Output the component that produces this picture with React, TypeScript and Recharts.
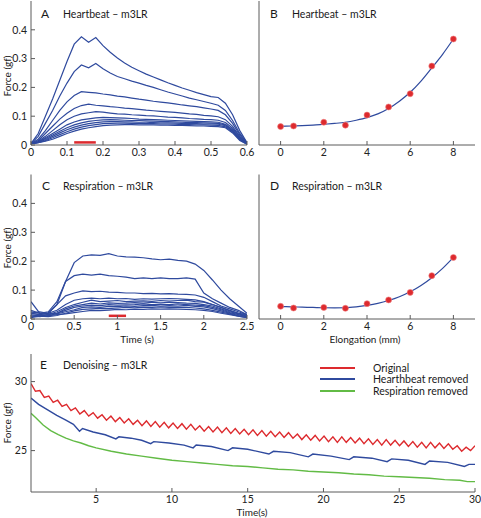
import React from "react";
import {
  ComposedChart,
  Legend,
  Line,
  LineChart,
  ReferenceLine,
  Scatter,
  XAxis,
  YAxis,
} from "recharts";

const FONT = "Lato, 'Liberation Sans', sans-serif";
const BLUE = "#2f4a9e";
const RED = "#dd2a2e";
const GREEN = "#62bb45";
const AXIS = "#5a5a5a";

// panel A: heartbeat traces, sampled every 0.02 s
const hbTime = [0, 0.02, 0.04, 0.06, 0.08, 0.1, 0.12, 0.14, 0.16, 0.18, 0.2, 0.22, 0.24, 0.26, 0.28, 0.3, 0.32, 0.34, 0.36, 0.38, 0.4, 0.42, 0.44, 0.46, 0.48, 0.5, 0.52, 0.54, 0.56, 0.58, 0.6];
const hb1 = [0.005, 0.04, 0.1, 0.16, 0.225, 0.29, 0.35, 0.376, 0.357, 0.373, 0.345, 0.322, 0.302, 0.285, 0.27, 0.258, 0.246, 0.236, 0.226, 0.216, 0.207, 0.198, 0.19, 0.182, 0.175, 0.168, 0.165, 0.145, 0.105, 0.05, 0.008];
const hb2 = [0.005, 0.03, 0.075, 0.12, 0.17, 0.215, 0.255, 0.278, 0.268, 0.283, 0.265, 0.25, 0.238, 0.23, 0.222, 0.215, 0.207, 0.2, 0.192, 0.184, 0.177, 0.17, 0.163, 0.157, 0.151, 0.145, 0.138, 0.12, 0.085, 0.04, 0.007];
const hb3 = [0.005, 0.02, 0.05, 0.085, 0.12, 0.15, 0.172, 0.185, 0.183, 0.181, 0.177, 0.174, 0.17, 0.167, 0.163, 0.159, 0.156, 0.152, 0.149, 0.146, 0.143, 0.139, 0.136, 0.133, 0.129, 0.125, 0.12, 0.105, 0.075, 0.035, 0.006];
const hb4 = [0.005, 0.015, 0.04, 0.065, 0.09, 0.11, 0.127, 0.137, 0.142, 0.138, 0.136, 0.133, 0.131, 0.128, 0.126, 0.124, 0.121, 0.119, 0.117, 0.115, 0.113, 0.111, 0.108, 0.106, 0.103, 0.101, 0.098, 0.088, 0.065, 0.03, 0.005];
const hb5 = [0.005, 0.012, 0.03, 0.05, 0.07, 0.088, 0.1, 0.108, 0.112, 0.116, 0.114, 0.111, 0.108, 0.107, 0.105, 0.104, 0.102, 0.101, 0.099, 0.097, 0.096, 0.094, 0.092, 0.091, 0.089, 0.088, 0.086, 0.078, 0.058, 0.028, 0.005];
const hb6 = [0.005, 0.01, 0.025, 0.04, 0.055, 0.07, 0.08, 0.087, 0.091, 0.094, 0.096, 0.095, 0.094, 0.093, 0.092, 0.09, 0.089, 0.088, 0.087, 0.086, 0.085, 0.084, 0.083, 0.082, 0.081, 0.08, 0.079, 0.072, 0.053, 0.025, 0.004];
const hb7 = [0.005, 0.01, 0.022, 0.035, 0.048, 0.06, 0.07, 0.077, 0.082, 0.085, 0.087, 0.088, 0.087, 0.086, 0.085, 0.085, 0.084, 0.083, 0.082, 0.081, 0.08, 0.079, 0.078, 0.078, 0.077, 0.076, 0.075, 0.07, 0.05, 0.022, 0.004];
const hb8 = [0.005, 0.009, 0.018, 0.03, 0.042, 0.053, 0.062, 0.069, 0.074, 0.078, 0.08, 0.081, 0.081, 0.08, 0.08, 0.079, 0.079, 0.078, 0.077, 0.077, 0.076, 0.075, 0.075, 0.074, 0.073, 0.073, 0.072, 0.067, 0.048, 0.02, 0.004];
const hb9 = [0.005, 0.008, 0.015, 0.025, 0.036, 0.046, 0.055, 0.062, 0.067, 0.071, 0.074, 0.075, 0.076, 0.076, 0.075, 0.075, 0.074, 0.074, 0.073, 0.073, 0.072, 0.071, 0.071, 0.07, 0.07, 0.069, 0.068, 0.063, 0.045, 0.018, 0.003];
const hb10 = [0.005, 0.008, 0.013, 0.02, 0.03, 0.04, 0.048, 0.055, 0.06, 0.064, 0.067, 0.069, 0.07, 0.071, 0.071, 0.07, 0.07, 0.07, 0.069, 0.069, 0.068, 0.068, 0.067, 0.066, 0.066, 0.065, 0.064, 0.06, 0.042, 0.016, 0.003];

// panel C: respiration traces, sampled every 0.1 s
const rsTime = [0, 0.1, 0.2, 0.3, 0.4, 0.5, 0.6, 0.7, 0.8, 0.9, 1, 1.1, 1.2, 1.3, 1.4, 1.5, 1.6, 1.7, 1.8, 1.9, 2, 2.1, 2.2, 2.3, 2.4, 2.5];
const rs1 = [0.02, 0.015, 0.02, 0.05, 0.13, 0.195, 0.218, 0.222, 0.22, 0.226, 0.218, 0.215, 0.214, 0.212, 0.208, 0.205, 0.207, 0.203, 0.2, 0.19, 0.168, 0.135, 0.1, 0.07, 0.045, 0.02];
const rs2 = [0.025, 0.02, 0.025, 0.06, 0.13, 0.15, 0.155, 0.152, 0.155, 0.15, 0.148, 0.145, 0.14, 0.142, 0.14, 0.142, 0.14, 0.14, 0.142, 0.138, 0.09, 0.07, 0.055, 0.04, 0.03, 0.015];
const rs3 = [0.02, 0.015, 0.02, 0.05, 0.08, 0.09, 0.097, 0.095, 0.096, 0.093, 0.092, 0.09, 0.09, 0.088, 0.089, 0.087, 0.088, 0.086, 0.085, 0.083, 0.075, 0.06, 0.045, 0.035, 0.025, 0.015];
const rs4 = [0.03, 0.02, 0.02, 0.03, 0.05, 0.065, 0.07, 0.072, 0.07, 0.072, 0.07, 0.071, 0.068, 0.07, 0.069, 0.07, 0.071, 0.07, 0.068, 0.066, 0.06, 0.05, 0.04, 0.03, 0.02, 0.015];
const rs5 = [0.015, 0.01, 0.015, 0.025, 0.04, 0.05, 0.058, 0.065, 0.06, 0.062, 0.064, 0.06, 0.062, 0.063, 0.061, 0.064, 0.062, 0.064, 0.065, 0.06, 0.058, 0.05, 0.04, 0.028, 0.02, 0.012];
const rs6 = [0.06, 0.02, 0.015, 0.02, 0.035, 0.045, 0.05, 0.055, 0.052, 0.056, 0.054, 0.055, 0.057, 0.055, 0.058, 0.056, 0.058, 0.057, 0.055, 0.054, 0.05, 0.045, 0.035, 0.025, 0.018, 0.01];
const rs7 = [0.01, 0.012, 0.01, 0.02, 0.03, 0.04, 0.045, 0.048, 0.046, 0.05, 0.048, 0.049, 0.05, 0.052, 0.05, 0.051, 0.05, 0.052, 0.05, 0.048, 0.046, 0.04, 0.032, 0.022, 0.015, 0.008];
const rs8 = [0.02, 0.025, 0.02, 0.018, 0.025, 0.032, 0.04, 0.042, 0.04, 0.044, 0.043, 0.045, 0.044, 0.046, 0.047, 0.045, 0.046, 0.045, 0.047, 0.044, 0.042, 0.036, 0.028, 0.02, 0.012, 0.008];
const rs9 = [0.005, 0.01, 0.008, 0.012, 0.02, 0.028, 0.033, 0.035, 0.037, 0.036, 0.038, 0.04, 0.039, 0.041, 0.04, 0.042, 0.04, 0.041, 0.04, 0.038, 0.035, 0.03, 0.024, 0.018, 0.01, 0.005];
const rs10 = [0.01, 0.008, 0.012, 0.015, 0.018, 0.022, 0.026, 0.03, 0.029, 0.031, 0.033, 0.032, 0.034, 0.033, 0.035, 0.034, 0.035, 0.034, 0.033, 0.032, 0.03, 0.026, 0.02, 0.015, 0.01, 0.005];

// panels B and D: peak force vs elongation, with fitted curve
const elongation = [0, 0.6, 2, 3, 4, 5, 6, 7, 8];
const hbPeak = [0.064, 0.066, 0.079, 0.069, 0.104, 0.132, 0.178, 0.274, 0.368];
const rsPeak = [0.044, 0.038, 0.04, 0.037, 0.053, 0.066, 0.092, 0.15, 0.213];
const fitX = [0, 0.5, 1, 1.5, 2, 2.5, 3, 3.5, 4, 4.5, 5, 5.5, 6, 6.5, 7, 7.5, 8];
const hbFit = [0.065, 0.066, 0.067, 0.069, 0.072, 0.075, 0.079, 0.086, 0.095, 0.108, 0.127, 0.152, 0.183, 0.222, 0.268, 0.315, 0.368];
const rsFit = [0.043, 0.042, 0.041, 0.04, 0.039, 0.0385, 0.039, 0.042, 0.047, 0.054, 0.064, 0.077, 0.094, 0.116, 0.143, 0.175, 0.213];

// panel E: denoising, original sampled every 0.293 s from 0.7 s
const origStart = 0.7;
const origStep = 0.293;
const original = [
  29.85, 29.3, 29.35, 28.85, 28.95, 28.5, 28.65, 28.2, 28.35, 27.9,
  28.1, 27.65, 27.9, 27.5, 27.75, 27.35, 27.6, 27.2, 27.5, 27.1,
  27.4, 27.0, 27.3, 26.9, 27.2, 26.8, 27.15, 26.75, 27.1, 26.7,
  27.05, 26.65, 27.0, 26.6, 26.95, 26.55, 26.9, 26.5, 26.8, 26.4,
  26.75, 26.35, 26.7, 26.3, 26.65, 26.25, 26.6, 26.2, 26.55, 26.15,
  26.5, 26.1, 26.45, 26.05, 26.4, 26.0, 26.35, 25.95, 26.3, 25.9,
  26.2, 25.8, 26.15, 25.75, 26.1, 25.7, 26.05, 25.65, 26.0, 25.6,
  26.0, 25.6, 25.95, 25.55, 25.9, 25.5, 25.85, 25.45, 25.8, 25.4,
  25.8, 25.4, 25.75, 25.35, 25.7, 25.3, 25.65, 25.25, 25.6, 25.2,
  25.6, 25.2, 25.55, 25.15, 25.5, 25.1, 25.35, 24.95, 25.25, 25.0,
  25.35,
];
const hbRemovedT = [0.7, 1.2, 1.8, 2.4, 3.0, 3.5, 3.9, 4.1, 4.8, 5.6, 6.3, 6.5, 7.3, 8.0, 8.6, 8.8, 9.8, 10.8, 11.4, 11.6, 12.6, 13.7, 14.0, 15.0, 16.4, 16.7, 17.8, 19.0, 19.3, 20.5, 21.7, 22.0, 23.2, 24.2, 24.5, 25.6, 26.7, 27.0, 28.2, 29.3, 29.6, 30];
const hbRemoved = [28.8, 28.35, 27.95, 27.55, 27.2, 26.9, 26.4, 26.6, 26.35, 26.15, 25.85, 26.0, 25.9, 25.75, 25.5, 25.65, 25.55, 25.4, 25.2, 25.4, 25.3, 25.0, 25.2, 25.1, 24.75, 24.95, 24.85, 24.55, 24.75, 24.6, 24.35, 24.55, 24.45, 24.2, 24.4, 24.3, 24.0, 24.25, 24.15, 23.85, 24.0, 24.0];
const rsRemovedT = [0.7, 1, 1.5, 2, 2.5, 3, 3.5, 4, 4.5, 5, 6, 7, 8, 9, 10, 11, 12, 13, 14, 15, 16, 17, 18, 19, 20, 21, 22, 23, 24, 25, 26, 27, 28, 29, 29.5, 30];
const rsRemoved = [27.7, 27.4, 26.85, 26.45, 26.15, 25.9, 25.7, 25.55, 25.35, 25.2, 24.95, 24.75, 24.6, 24.45, 24.3, 24.2, 24.1, 24.0, 23.9, 23.85, 23.75, 23.65, 23.6, 23.5, 23.45, 23.4, 23.3, 23.25, 23.15, 23.1, 23.05, 23.0, 22.9, 22.85, 22.75, 22.75];
const legendOrder = ["Original", "Hearthbeat removed", "Respiration removed"];

const hbCurves = [hb1, hb2, hb3, hb4, hb5, hb6, hb7, hb8, hb9, hb10];
const rsCurves = [rs1, rs2, rs3, rs4, rs5, rs6, rs7, rs8, rs9, rs10];

const toRows = (time: number[], curves: number[][]) =>
  time.map((t, i) => {
    const row: Record<string, number> = { t };
    curves.forEach((c, j) => (row["c" + j] = c[i]));
    return row;
  });

const pairs = (xs: number[], ys: number[]) => xs.map((x, i) => ({ x, y: ys[i] }));

const hbRows = toRows(hbTime, hbCurves);
const rsRows = toRows(rsTime, rsCurves);
const originalRows = original.map((y, i) => ({ x: origStart + origStep * i, y }));
const hbRemovedRows = pairs(hbRemovedT, hbRemoved);
const rsRemovedRows = pairs(rsRemovedT, rsRemoved);

const tickStyle = { fontSize: 10.5, fill: "#222", fontFamily: FONT };

// frame with inward ticks on all four sides, matlab style
function frame(
  xDomain: number[],
  xTicks: number[],
  yDomain: number[],
  yTicks: number[],
  xKey: string,
  yWidth: number,
  xHeight: number,
  showY: boolean,
) {
  return [
    <XAxis
      key="xb"
      xAxisId={0}
      dataKey={xKey}
      type="number"
      domain={xDomain}
      ticks={xTicks}
      allowDataOverflow
      height={xHeight}
      stroke={AXIS}
      tickSize={-4}
      tickMargin={8}
      tick={tickStyle}
      interval={0}
    />,
    <XAxis
      key="xt"
      xAxisId="top"
      orientation="top"
      type="number"
      domain={xDomain}
      ticks={xTicks}
      allowDataOverflow
      height={0}
      stroke={AXIS}
      tickSize={-4}
      tickFormatter={() => ""}
      interval={0}
    />,
    <YAxis
      key="yl"
      yAxisId={0}
      type="number"
      dataKey={xKey === "x" ? "y" : undefined}
      domain={yDomain}
      ticks={yTicks}
      allowDataOverflow
      width={yWidth}
      stroke={AXIS}
      tickSize={-4}
      tickMargin={8}
      tick={showY ? tickStyle : false}
      interval={0}
    />,
    <YAxis
      key="yr"
      yAxisId="right"
      orientation="right"
      type="number"
      domain={yDomain}
      ticks={yTicks}
      allowDataOverflow
      width={0}
      stroke={AXIS}
      tickSize={-4}
      tickFormatter={() => ""}
      interval={0}
    />,
  ];
}

function Txt({
  x,
  y,
  children,
  size = 10.5,
  center = false,
  rotate = false,
}: {
  x: number;
  y: number;
  children: React.ReactNode;
  size?: number;
  center?: boolean;
  rotate?: boolean;
}) {
  const t = rotate
    ? "translate(-50%, -50%) rotate(-90deg)"
    : center
      ? "translate(-50%, -50%)"
      : "translateY(-50%)";
  return (
    <div
      style={{
        position: "absolute",
        left: x,
        top: y,
        transform: t,
        fontSize: size,
        lineHeight: 1,
        whiteSpace: "nowrap",
        color: "#1a1a1a",
        fontFamily: FONT,
      }}
    >
      {children}
    </div>
  );
}

function TraceChart({
  rows,
  xDomain,
  xTicks,
  bar,
  height,
  top,
}: {
  rows: Record<string, number>[];
  xDomain: number[];
  xTicks: number[];
  bar: number[];
  height: number;
  top: number;
}) {
  return (
    <LineChart
      width={262}
      height={height}
      data={rows}
      margin={{ top, right: 15, bottom: 0, left: 0 }}
    >
      {frame(xDomain, xTicks, [0, 0.5], [0, 0.1, 0.2, 0.3, 0.4], "t", 31, 20, true)}
      {hbCurves.map((_, j) => (
        <Line
          key={j}
          dataKey={"c" + j}
          type="linear"
          stroke={BLUE}
          strokeWidth={1.2}
          dot={false}
          isAnimationActive={false}
        />
      ))}
      <ReferenceLine
        segment={[
          { x: bar[0], y: bar[2] },
          { x: bar[1], y: bar[2] },
        ]}
        stroke={RED}
        strokeWidth={2.5}
      />
    </LineChart>
  );
}

function FitChart({
  points,
  fit,
  height,
  top,
}: {
  points: { x: number; y: number }[];
  fit: { x: number; y: number }[];
  height: number;
  top: number;
}) {
  return (
    <ComposedChart width={240} height={height} margin={{ top, right: 5, bottom: 0, left: 0 }}>
      {frame([-1, 9], [0, 2, 4, 6, 8], [0, 0.5], [0.1, 0.2, 0.3, 0.4], "x", 19, 20, false)}
      <Line
        data={fit}
        dataKey="y"
        type="monotone"
        stroke={BLUE}
        strokeWidth={1.2}
        dot={false}
        isAnimationActive={false}
      />
      <Scatter
        data={points}
        dataKey="y"
        fill={RED}
        isAnimationActive={false}
        shape={(p: any) => <circle cx={p.cx} cy={p.cy} r={3} fill={RED} stroke="#f08080" strokeWidth={0.6} />}
      />
    </ComposedChart>
  );
}

function LegendBox({ payload }: any) {
  const items = [...(payload || [])].sort(
    (a: any, b: any) => legendOrder.indexOf(a.value) - legendOrder.indexOf(b.value),
  );
  return (
    <div style={{ fontFamily: FONT, fontSize: 10.5, color: "#1a1a1a" }}>
      {items.map((p: any) => (
        <div key={p.value} style={{ display: "flex", alignItems: "center", height: 11.5 }}>
          <svg width={35} height={4} style={{ marginRight: 18 }}>
            <line x1={0} y1={2} x2={35} y2={2} stroke={p.color} strokeWidth={2.2} />
          </svg>
          <span>{p.value}</span>
        </div>
      ))}
    </div>
  );
}

export default function App() {
  return (
    <div
      style={{
        position: "absolute",
        left: 0,
        top: 0,
        width: 481,
        height: 518,
        background: "#fff",
        fontFamily: FONT,
      }}
    >
      <div style={{ position: "absolute", left: 240, top: 0 }}>
        <FitChart points={pairs(elongation, hbPeak)} fit={pairs(fitX, hbFit)} height={165} top={1} />
      </div>
      <div style={{ position: "absolute", left: 240, top: 165 }}>
        <FitChart points={pairs(elongation, rsPeak)} fit={pairs(fitX, rsFit)} height={174} top={9.5} />
      </div>
      <div style={{ position: "absolute", left: 0, top: 0 }}>
        <TraceChart rows={hbRows} xDomain={[0, 0.6]} xTicks={[0, 0.1, 0.2, 0.3, 0.4, 0.5, 0.6]} bar={[0.12, 0.18, 0.009]} height={165} top={1} />
      </div>
      <div style={{ position: "absolute", left: 0, top: 165 }}>
        <TraceChart rows={rsRows} xDomain={[0, 2.5]} xTicks={[0, 0.5, 1, 1.5, 2, 2.5]} bar={[0.9, 1.1, 0.011]} height={174} top={9.5} />
      </div>
      <div style={{ position: "absolute", left: 0, top: 340 }}>
        <LineChart width={481} height={178} margin={{ top: 14, right: 6, bottom: 8, left: 0 }}>
          {frame([0.7, 30], [5, 10, 15, 20, 25, 30], [22, 32], [25, 30], "x", 31, 18, true)}
          <Line data={originalRows} dataKey="y" name="Original" type="linear" stroke={RED} strokeWidth={1.4} dot={false} isAnimationActive={false} />
          <Line data={hbRemovedRows} dataKey="y" name="Hearthbeat removed" type="linear" stroke={BLUE} strokeWidth={1.4} dot={false} isAnimationActive={false} />
          <Line data={rsRemovedRows} dataKey="y" name="Respiration removed" type="linear" stroke={GREEN} strokeWidth={1.4} dot={false} isAnimationActive={false} />
          <Legend
            layout="horizontal"
            verticalAlign="middle"
            align="center"
            content={<LegendBox />}
            wrapperStyle={{ left: 320, top: 22, width: 160 }}
          />
        </LineChart>
      </div>

      <Txt x={41} y={14} size={12}>A</Txt>
      <Txt x={63} y={14}>Heartbeat – m3LR</Txt>
      <Txt x={270} y={14} size={12}>B</Txt>
      <Txt x={292} y={14}>Heartbeat – m3LR</Txt>
      <Txt x={42} y={186} size={12}>C</Txt>
      <Txt x={63} y={186}>Respiration – m3LR</Txt>
      <Txt x={270} y={186} size={12}>D</Txt>
      <Txt x={292} y={186}>Respiration – m3LR</Txt>
      <Txt x={40} y={365} size={12}>E</Txt>
      <Txt x={63} y={365}>Denoising – m3LR</Txt>

      <Txt x={137} y={339} center size={10}>Time (s)</Txt>
      <Txt x={365} y={339} center size={10}>Elongation (mm)</Txt>
      <Txt x={252} y={512} center size={10}>Time(s)</Txt>

      <Txt x={7} y={76} rotate size={10}>Force (gf)</Txt>
      <Txt x={7} y={248} rotate size={10}>Force (gf)</Txt>
      <Txt x={7} y={423} rotate size={10}>Force (gf)</Txt>
    </div>
  );
}
